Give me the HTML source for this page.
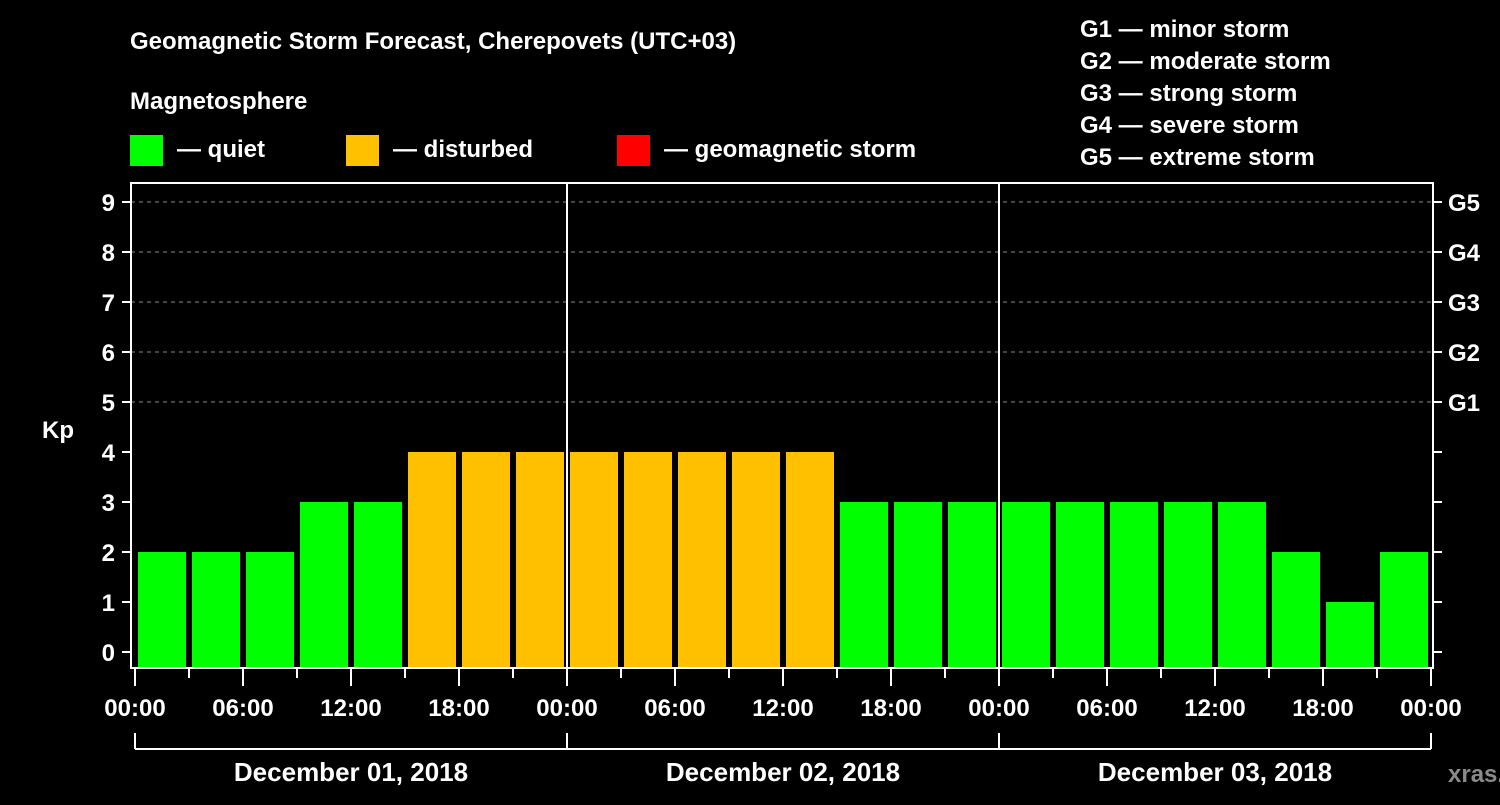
<!DOCTYPE html>
<html><head><meta charset="utf-8"><style>
body{margin:0;background:#000;width:1500px;height:800px;overflow:hidden}
svg text{font-family:"Liberation Sans",sans-serif;font-weight:bold;fill:#fff}
</style></head><body>
<svg id="c" width="1500" height="800">
<text x="130" y="49" font-size="24">Geomagnetic Storm Forecast, Cherepovets (UTC+03)</text>
<text x="130" y="109" font-size="24">Magnetosphere</text>
<g><rect x="130" y="135" width="33" height="31" fill="#00ff00"/><text x="177" y="157" font-size="24">— quiet</text></g>
<g><rect x="346" y="135" width="33" height="31" fill="#ffc000"/><text x="393" y="157" font-size="24">— disturbed</text></g>
<g><rect x="617" y="135" width="33" height="31" fill="#ff0000"/><text x="664" y="157" font-size="24">— geomagnetic storm</text></g>
<g font-size="24">
<text x="1080" y="37">G1 — minor storm</text>
<text x="1080" y="69">G2 — moderate storm</text>
<text x="1080" y="101">G3 — strong storm</text>
<text x="1080" y="133">G4 — severe storm</text>
<text x="1080" y="165">G5 — extreme storm</text>
</g>
<text x="42" y="438" font-size="24">Kp</text>
<text x="1448" y="782" font-size="24" fill="#888" style="fill:#8a8a8a">xras.ru</text>
<g id="grid"></g><g id="bars"></g><g id="axes"></g>
</svg>
<script>
const kpValues=[2,2,2,3,3,4,4,4, 4,4,4,4,4,3,3,3, 3,3,3,3,3,2,1,2];
const dayLabels=["December 01, 2018","December 02, 2018","December 03, 2018"];
const hourLabels=["00:00","06:00","12:00","18:00"];
const gLabels=["G1","G2","G3","G4","G5"];
const NS="http://www.w3.org/2000/svg";
const x0=135,pxPerHour=18,y0=652,pxPerKp=50;
const X=h=>x0+h*pxPerHour, Y=k=>y0-k*pxPerKp;
function mk(tag,attrs,parent,txt){const e=document.createElementNS(NS,tag);for(const k in attrs)e.setAttribute(k,attrs[k]);if(txt!==undefined)e.textContent=txt;parent.appendChild(e);return e;}
const grid=document.getElementById('grid'),bars=document.getElementById('bars'),axes=document.getElementById('axes');
for(let k=5;k<=9;k++){const l=mk('line',{x1:131,x2:1433,y1:Y(k),y2:Y(k),stroke:'#888','stroke-dasharray':'4,4','stroke-width':1},grid);

}
const fill=k=>k>=5?'#ff0000':(k>=4?'#ffc000':'#00ff00');
kpValues.forEach((v,i)=>{const r=mk('rect',{x:X(i*3)+3,y:Y(v),width:48,height:668-Y(v),fill:fill(v)},bars);

});
// frame
const f=mk('rect',{x:131,y:183,width:1302,height:485,fill:'none',stroke:'#fff','stroke-width':2},axes);


for(let d=1;d<3;d++){const l=mk('line',{x1:X(d*24),x2:X(d*24),y1:183,y2:668,stroke:'#fff','stroke-width':2},axes);

}
for(let k=0;k<=9;k++){
mk('line',{x1:122,x2:131,y1:Y(k),y2:Y(k),stroke:'#fff','stroke-width':2},axes);
mk('line',{x1:1433,x2:1442,y1:Y(k),y2:Y(k),stroke:'#fff','stroke-width':2},axes);
const t=mk('text',{x:115,y:Y(k)+9,'font-size':24,'text-anchor':'end'},axes,String(k));

}
gLabels.forEach((g,i)=>{const t=mk('text',{x:1448,y:Y(5+i)+9,'font-size':24},axes,g);

});
for(let h=0;h<=72;h+=3){const major=h%6===0;
mk('line',{x1:X(h),x2:X(h),y1:668,y2:major?686:678,stroke:'#fff','stroke-width':2},axes);
if(major){const t=mk('text',{x:X(h),y:716,'font-size':24,'text-anchor':'middle'},axes,hourLabels[(h%24)/6]);

}}
mk('line',{x1:X(0),x2:X(72),y1:749,y2:749,stroke:'#fff','stroke-width':2},axes);
for(let d=0;d<=3;d++)mk('line',{x1:X(d*24),x2:X(d*24),y1:733,y2:749,stroke:'#fff','stroke-width':2},axes);
dayLabels.forEach((s,d)=>{const t=mk('text',{x:X(d*24+12),y:781,'font-size':26,'text-anchor':'middle'},axes,s);

});
</script>
</body></html>
